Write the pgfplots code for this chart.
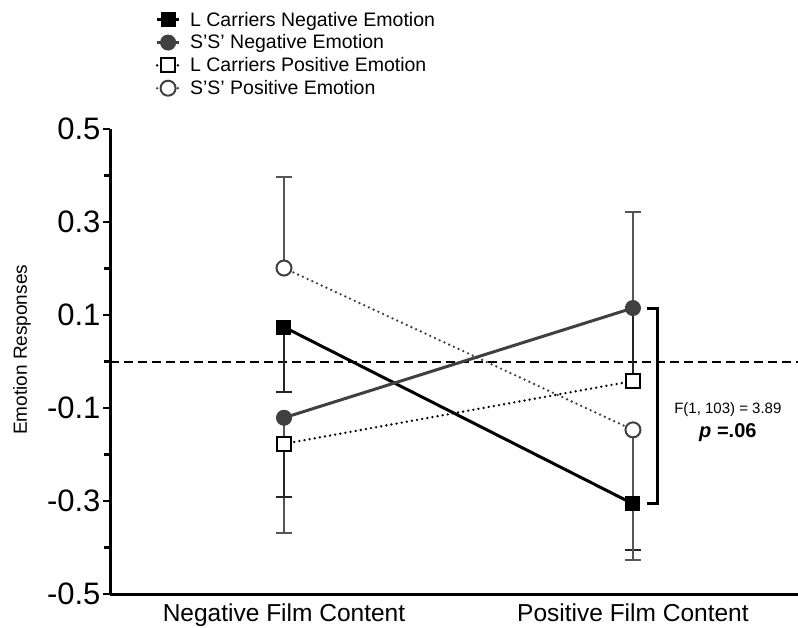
\documentclass[border=0pt]{standalone}
\usepackage{pgfplots}
\pgfplotsset{compat=1.18}
\usepackage{fontspec}
\setmainfont{Liberation Sans}
\definecolor{dgray}{HTML}{404040}
\definecolor{egray}{HTML}{555555}
\pgfplotsset{ebL/.style={forget plot, draw=none, mark=none, error bars/.cd, y dir=#1, y explicit,
   error bar style={draw=black!85, solid, line width=2pt},
   error mark options={draw=black!85, solid, line width=2pt, mark size=8pt, rotate=90}},
  ebS/.style={forget plot, draw=none, mark=none, error bars/.cd, y dir=#1, y explicit,
   error bar style={draw=egray, solid, line width=2pt},
   error mark options={draw=egray, solid, line width=2pt, mark size=8pt, rotate=90}}}
\begin{document}
\begin{tikzpicture}
\path[use as bounding box] (0,0) rectangle (798pt,627pt);
\begin{axis}[
  at={(110pt,33pt)}, anchor=south west,
  scale only axis, width=688pt, height=465pt,
  xmin=-0.4986, xmax=1.473, ymin=-0.5, ymax=0.5,
  axis lines=left, axis line style={-, line width=3pt},
  xtick={0,1}, xticklabels={Negative Film Content, Positive Film Content},
  x tick style={draw=none},
  xticklabel style={font=\fontsize{24.5}{26}\selectfont, yshift=1pt},
  ytick={-0.5,-0.3,-0.1,0.1,0.3,0.5},
  yticklabels={-0.5,-0.3,-0.1,0.1,0.3,0.5},
  minor ytick={-0.4,-0.2,0,0.2,0.4},
  tick align=outside,
  y tick style={line width=2.5pt, black},
  major tick length=7pt, minor tick length=6pt,
  yticklabel style={font=\fontsize{31}{31}\selectfont, xshift=1pt},
  ylabel={Emotion Responses},
  ylabel style={font=\fontsize{19}{20}\selectfont, at={(axis description cs:-0.128,0.525)}, anchor=center},
  clip=false,
  legend style={at={(axis description cs:0.066,1.2555)}, anchor=north west, draw=none, fill=none,
    font=\fontsize{19.5}{20}\selectfont, row sep=4.2pt, inner sep=0pt,
    nodes={inner sep=1.5pt}},
  legend cell align=left,
  legend image code/.code={\draw[mark repeat=2,mark phase=2,#1] plot coordinates {(0pt,0pt)(11pt,0pt)(22pt,0pt)}; \path (30pt,0pt);},
]
% zero reference line
\addplot[forget plot, line width=2pt, dash pattern=on 9pt off 5pt] coordinates {(-0.4986,0) (1.473,0)};
% significance bracket
\addplot[forget plot, line width=3pt, black] coordinates {(1.040,0.115) (1.069,0.115) (1.069,-0.306) (1.040,-0.306)};
% error bars
\addplot[ebL=minus] coordinates {(0,0.074) -= (0,0.140) (1,-0.306) -= (0,0.099)};
\addplot[ebS=minus] coordinates {(0,-0.121) -= (0,0.248)};
\addplot[ebS=plus] coordinates {(1,0.115) += (0,0.206)};
\addplot[ebL=minus] coordinates {(0,-0.177) -= (0,0.114)};
\addplot[ebL=plus] coordinates {(1,-0.042) += (0,0.157)};
\addplot[ebS=plus] coordinates {(0,0.201) += (0,0.196)};
\addplot[ebS=minus] coordinates {(1,-0.147) -= (0,0.280)};
% series
\addplot[black, line width=3pt, mark=square*, mark size=7pt, mark options={solid, fill=black, line width=1pt}]
  coordinates {(0,0.074) (1,-0.306)};
\addlegendentry{L Carriers Negative Emotion}
\addplot[dgray, line width=3pt, mark=*, mark size=7.5pt, mark options={solid, fill=dgray, line width=1pt}]
  coordinates {(0,-0.121) (1,0.115)};
\addlegendentry{S'S' Negative Emotion}
\addplot[black, line width=2.6pt, line cap=round, dash pattern=on 0pt off 5.2pt, mark=square*, mark size=7pt, mark options={solid, fill=white, draw=black, line width=2pt}]
  coordinates {(0,-0.177) (1,-0.042)};
\addlegendentry{L Carriers Positive Emotion}
\addplot[dgray, line width=2.6pt, line cap=round, dash pattern=on 0pt off 5.2pt, mark=*, mark size=7.5pt, mark options={solid, fill=white, draw=dgray, line width=2pt}]
  coordinates {(0,0.201) (1,-0.147)};
\addlegendentry{S'S' Positive Emotion}
% annotation
\node[font=\fontsize{15}{16}\selectfont, anchor=center] at (axis cs:1.272,-0.104) {F(1, 103) = 3.89};
\node[font=\fontsize{20}{21}\selectfont\bfseries, anchor=center] at (axis cs:1.272,-0.152) {\textit{p} =.06};
\end{axis}
\end{tikzpicture}
\end{document}
